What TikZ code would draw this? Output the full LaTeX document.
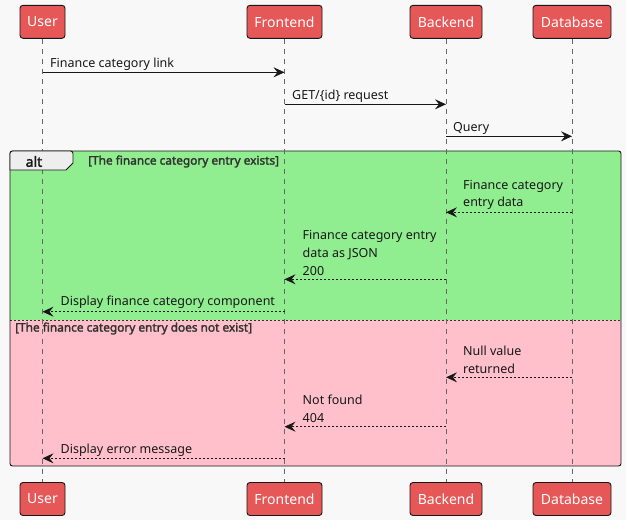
\documentclass[tikz,border=0pt]{standalone}
\usepackage{fontspec}
\setmainfont{Noto Sans}[AutoFakeBold=2.2]
\usetikzlibrary{arrows.meta}
\definecolor{bg}{HTML}{F8F8F8}
\definecolor{partfill}{HTML}{E65757}
\definecolor{altgreen}{HTML}{90EE90}
\definecolor{altpink}{HTML}{FFC0CB}
\definecolor{tabfill}{HTML}{EEEEEE}
\definecolor{lineclr}{HTML}{181818}
\definecolor{condclr}{HTML}{333333}
\tikzset{
  participant/.style={draw=lineclr, line width=0.9pt, fill=partfill, rounded corners=3pt,
    minimum height=33pt, inner sep=0pt, text=white, font=\fontsize{14}{16}\selectfont},
  lifeline/.style={draw=gray!80!black, line width=0.6pt, dash pattern=on 5pt off 5pt},
  msg/.style={draw=lineclr, line width=0.9pt, -{Stealth[length=11pt,width=10pt,inset=4pt]}},
  reply/.style={msg, dash pattern=on 2pt off 2pt},
  msglabel/.style={inner sep=0pt, align=left, font=\fontsize{12.5}{17.6}\selectfont, text=lineclr},
  condlabel/.style={inner sep=0pt, font=\fontsize{11.85}{13}\selectfont\bfseries, text=condclr},
}
\begin{document}
\begin{tikzpicture}[x=1pt,y=-1pt]
\useasboundingbox[fill=bg] (0,0) rectangle (626,520);

% alt frame backgrounds
\fill[altgreen, rounded corners=2.5pt] (10,151) -- (621,151) -- (621,320) -- (10,320) -- cycle;
\fill[altgreen] (10,160) rectangle (621,320);
\fill[altpink, rounded corners=2.5pt] (10,320) -- (621,320) -- (621,466) -- (10,466) -- cycle;
\fill[altpink] (10,320) rectangle (621,455);
\draw[condclr, line width=0.8pt, dash pattern=on 2pt off 2pt] (10,320) -- (621,320);
\draw[lineclr, line width=0.9pt, rounded corners=2.5pt] (10,151) rectangle (621,466);

% participants
\node[participant, minimum width=45pt] (userT) at (42.5,21.8) {User};
\node[participant, minimum width=75pt] (feT) at (284.5,21.8) {Frontend};
\node[participant, minimum width=72pt] (beT) at (446,21.8) {Backend};
\node[participant, minimum width=78pt] (dbT) at (572,21.8) {Database};
\node[participant, minimum width=45pt] (userB) at (42.5,499) {User};
\node[participant, minimum width=75pt] (feB) at (284.5,499) {Frontend};
\node[participant, minimum width=72pt] (beB) at (446,499) {Backend};
\node[participant, minimum width=78pt] (dbB) at (572,499) {Database};

% lifelines
\draw[lifeline] (userT) -- (userB);
\draw[lifeline] (feT) -- (feB);
\draw[lifeline] (beT) -- (beB);
\draw[lifeline] (dbT) -- (dbB);

% alt tab and conditions
\draw[lineclr, line width=0.9pt, fill=tabfill] (10,170) -- (10,154) [rounded corners=2.5pt] -- (10,151) -- (73,151) [sharp corners] -- (73,163) -- (66,170) -- cycle;
\node[font=\fontsize{14}{16}\selectfont\bfseries, text=lineclr, inner sep=0pt] (altlbl) at (34,161.5) {alt};
\node[condlabel, anchor=west] (cond1) at (88,161.5) {[The finance category entry exists]};
\node[condlabel, anchor=west] (cond2) at (15,328.5) {[The finance category entry does not exist]};

% message end points
\coordinate (u1) at (42.5,72.3);   \coordinate (f1) at (284.5,72.3);
\coordinate (f2) at (284.5,104.3); \coordinate (b2) at (446,104.3);
\coordinate (b3) at (446,136.3);   \coordinate (d3) at (572,136.3);
\coordinate (d4) at (572,212.3);   \coordinate (b4) at (446,212.3);
\coordinate (b5) at (446,279.3);   \coordinate (f5) at (284.5,279.3);
\coordinate (f6) at (284.5,311.7); \coordinate (u6) at (42.5,311.7);
\coordinate (d7) at (572,377.3);   \coordinate (b7) at (446,377.3);
\coordinate (b8) at (446,426.7);   \coordinate (f8) at (284.5,426.7);
\coordinate (f9) at (284.5,458.3); \coordinate (u9) at (42.5,458.3);

% messages
\draw[msg] (u1) -- (f1);
\node[msglabel, anchor=west] (l1) at (50,64.5) {Finance category link};
\draw[msg] (f2) -- (b2);
\node[msglabel, anchor=west] (l2) at (292,96.3) {GET/\{id\} request};
\draw[msg] (b3) -- (d3);
\node[msglabel, anchor=west] (l3) at (453,128.3) {Query};
\draw[reply] (d4) -- (b4);
\node[msglabel, anchor=west] (l4) at (463,195) {Finance category\\entry data};
\draw[reply] (b5) -- (f5);
\node[msglabel, anchor=west] (l5) at (302.5,253) {Finance category entry\\data as JSON\\200};
\draw[reply] (f6) -- (u6);
\node[msglabel, anchor=west] (l6) at (60.5,302.5) {Display finance category component};
\draw[reply] (d7) -- (b7);
\node[msglabel, anchor=west] (l7) at (463,359.8) {Null value\\returned};
\draw[reply] (b8) -- (f8);
\node[msglabel, anchor=west] (l8) at (302.5,409) {Not found\\404};
\draw[reply] (f9) -- (u9);
\node[msglabel, anchor=west] (l9) at (60.5,450) {Display error message};
\end{tikzpicture}
\end{document}
